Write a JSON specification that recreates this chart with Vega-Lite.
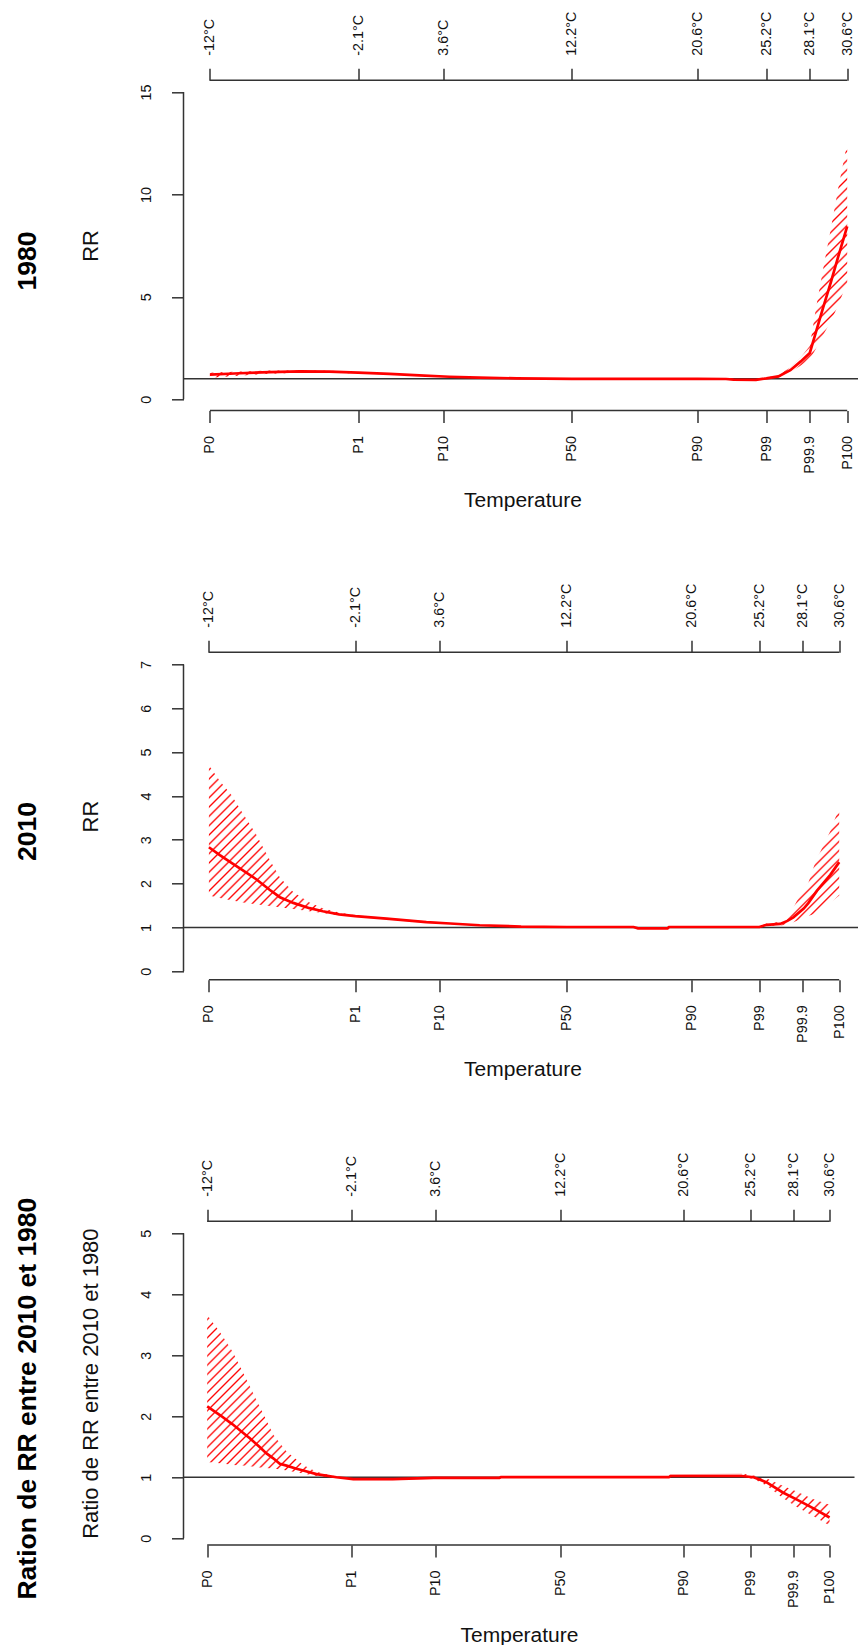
{
  "$schema": "https://vega.github.io/schema/vega-lite/v6.json",
  "background": "white",
  "padding": {"left": 13.5, "top": 10.3, "right": 0, "bottom": 0},
  "bounds": "flush",
  "spacing": 241,
  "vconcat": [
    {
      "width": 678,
      "height": 330.3,
      "title": {"text": "1980"},
      "data": {"values": [
        {"t": -12, "rr": 1.2, "lo": 1.05, "hi": 1.3},
        {"t": -10, "rr": 1.27, "lo": 1.15, "hi": 1.36},
        {"t": -8, "rr": 1.33, "lo": 1.25, "hi": 1.4},
        {"t": -6, "rr": 1.36, "lo": 1.3, "hi": 1.41},
        {"t": -4, "rr": 1.35, "lo": 1.3, "hi": 1.39},
        {"t": -2.1, "rr": 1.3, "lo": 1.26, "hi": 1.34},
        {"t": 0, "rr": 1.24, "lo": 1.21, "hi": 1.27},
        {"t": 2, "rr": 1.17, "lo": 1.15, "hi": 1.19},
        {"t": 4, "rr": 1.1, "lo": 1.08, "hi": 1.12},
        {"t": 6, "rr": 1.06, "lo": 1.05, "hi": 1.07},
        {"t": 8.5, "rr": 1.02, "lo": 1.01, "hi": 1.03},
        {"t": 12.2, "rr": 1.0, "lo": 0.99, "hi": 1.01},
        {"t": 16, "rr": 1.0, "lo": 0.99, "hi": 1.01},
        {"t": 20.6, "rr": 1.0, "lo": 0.99, "hi": 1.01},
        {"t": 22.5, "rr": 0.99, "lo": 0.97, "hi": 1.01},
        {"t": 23, "rr": 0.96, "lo": 0.94, "hi": 0.98},
        {"t": 24.5, "rr": 0.95, "lo": 0.93, "hi": 0.97},
        {"t": 25.2, "rr": 1.02, "lo": 0.99, "hi": 1.05},
        {"t": 26, "rr": 1.12, "lo": 1.06, "hi": 1.18},
        {"t": 26.8, "rr": 1.42, "lo": 1.32, "hi": 1.55},
        {"t": 27.5, "rr": 1.85, "lo": 1.65, "hi": 2.05},
        {"t": 28.1, "rr": 2.26, "lo": 1.95, "hi": 2.6},
        {"t": 28.5, "rr": 3.25, "lo": 2.45, "hi": 4.4},
        {"t": 29, "rr": 4.5, "lo": 3.15, "hi": 6.4},
        {"t": 29.5, "rr": 5.7, "lo": 3.8, "hi": 8.3},
        {"t": 30, "rr": 6.96, "lo": 4.6, "hi": 10.3},
        {"t": 30.6, "rr": 8.44, "lo": 5.7, "hi": 12.5}
      ]},
      "resolve": {"axis": {"x": "independent", "y": "independent"}},
      "layer": [
        {
          "transform": [{"filter": "datum.t <= -2.1"}],
          "mark": {"type": "area", "fill": {"gradient": "linear", "x1": 0, "y1": 0, "x2": 1.0474, "y2": 0.0523, "stops": [
            {"offset":0.0176,"color":"#ff000000"},{"offset":0.0294,"color":"#ff0000"},{"offset":0.0412,"color":"#ff000000"},
            {"offset":0.0765,"color":"#ff000000"},{"offset":0.0882,"color":"#ff0000"},{"offset":0.1,"color":"#ff000000"},
            {"offset":0.1353,"color":"#ff000000"},{"offset":0.1471,"color":"#ff0000"},{"offset":0.1588,"color":"#ff000000"},
            {"offset":0.1941,"color":"#ff000000"},{"offset":0.2059,"color":"#ff0000"},{"offset":0.2176,"color":"#ff000000"},
            {"offset":0.2529,"color":"#ff000000"},{"offset":0.2647,"color":"#ff0000"},{"offset":0.2765,"color":"#ff000000"},
            {"offset":0.3118,"color":"#ff000000"},{"offset":0.3235,"color":"#ff0000"},{"offset":0.3353,"color":"#ff000000"},
            {"offset":0.3706,"color":"#ff000000"},{"offset":0.3824,"color":"#ff0000"},{"offset":0.3941,"color":"#ff000000"},
            {"offset":0.4294,"color":"#ff000000"},{"offset":0.4412,"color":"#ff0000"},{"offset":0.4529,"color":"#ff000000"},
            {"offset":0.4882,"color":"#ff000000"},{"offset":0.5,"color":"#ff0000"},{"offset":0.5118,"color":"#ff000000"},
            {"offset":0.5471,"color":"#ff000000"},{"offset":0.5588,"color":"#ff0000"},{"offset":0.5706,"color":"#ff000000"},
            {"offset":0.6059,"color":"#ff000000"},{"offset":0.6176,"color":"#ff0000"},{"offset":0.6294,"color":"#ff000000"},
            {"offset":0.6647,"color":"#ff000000"},{"offset":0.6765,"color":"#ff0000"},{"offset":0.6882,"color":"#ff000000"},
            {"offset":0.7235,"color":"#ff000000"},{"offset":0.7353,"color":"#ff0000"},{"offset":0.7471,"color":"#ff000000"},
            {"offset":0.7824,"color":"#ff000000"},{"offset":0.7941,"color":"#ff0000"},{"offset":0.8059,"color":"#ff000000"},
            {"offset":0.8412,"color":"#ff000000"},{"offset":0.8529,"color":"#ff0000"},{"offset":0.8647,"color":"#ff000000"},
            {"offset":0.9,"color":"#ff000000"},{"offset":0.9118,"color":"#ff0000"},{"offset":0.9235,"color":"#ff000000"},
            {"offset":0.9588,"color":"#ff000000"},{"offset":0.9706,"color":"#ff0000"},{"offset":0.9824,"color":"#ff000000"}
          ]}},
          "encoding": {
            "x": {"field": "t", "type": "quantitative", "scale": {"domain": [-13.765, 31.556], "nice": false, "zero": false}, "axis": null},
            "y": {"field": "lo", "type": "quantitative", "scale": {"domain": [-0.552, 15.571], "nice": false, "zero": false}, "axis": null},
            "y2": {"field": "hi"}
          }
        },
        {
          "transform": [{"filter": "datum.t >= -2.1 && datum.t <= 25.2"}],
          "mark": {"type": "area", "color": "#ff0000", "fillOpacity": 0.25},
          "encoding": {
            "x": {"field": "t", "type": "quantitative", "scale": {"domain": [-13.765, 31.556], "nice": false, "zero": false},
              "axis": {"orient": "bottom", "values": [-12, -2.1, 3.6, 12.2, 20.6, 25.2, 28.1, 30.6],
                "labelExpr": "datum.value == -12 ? 'P0' : datum.value == -2.1 ? 'P1' : datum.value == 3.6 ? 'P10' : datum.value == 12.2 ? 'P50' : datum.value == 20.6 ? 'P90' : datum.value == 25.2 ? 'P99' : datum.value == 28.1 ? 'P99.9' : 'P100'",
                "labelAngle": 270, "labelAlign": "right", "labelBaseline": "middle", "labelPadding": 13,
                "title": "Temperature", "titleFontSize": 21, "titlePadding": 16.5}},
            "y": {"field": "lo", "type": "quantitative", "scale": {"domain": [-0.552, 15.571], "nice": false, "zero": false},
              "axis": {"orient": "left", "values": [0, 5, 10, 15], "labelAngle": 270, "labelAlign": "center", "labelBaseline": "bottom", "labelPadding": 18,
                "title": "RR", "titleFontSize": 22, "titlePadding": 36}},
            "y2": {"field": "hi"}
          }
        },
        {
          "transform": [{"filter": "datum.t >= 25.2"}],
          "mark": {"type": "area", "fill": {"gradient": "linear", "x1": 0, "y1": 0, "x2": 0.4117, "y2": 1.2015, "stops": [
            {"offset":0.0088,"color":"#ff000000"},{"offset":0.0147,"color":"#ff0000"},{"offset":0.0206,"color":"#ff000000"},
            {"offset":0.0382,"color":"#ff000000"},{"offset":0.0441,"color":"#ff0000"},{"offset":0.05,"color":"#ff000000"},
            {"offset":0.0676,"color":"#ff000000"},{"offset":0.0735,"color":"#ff0000"},{"offset":0.0794,"color":"#ff000000"},
            {"offset":0.0971,"color":"#ff000000"},{"offset":0.1029,"color":"#ff0000"},{"offset":0.1088,"color":"#ff000000"},
            {"offset":0.1265,"color":"#ff000000"},{"offset":0.1324,"color":"#ff0000"},{"offset":0.1382,"color":"#ff000000"},
            {"offset":0.1559,"color":"#ff000000"},{"offset":0.1618,"color":"#ff0000"},{"offset":0.1676,"color":"#ff000000"},
            {"offset":0.1853,"color":"#ff000000"},{"offset":0.1912,"color":"#ff0000"},{"offset":0.1971,"color":"#ff000000"},
            {"offset":0.2147,"color":"#ff000000"},{"offset":0.2206,"color":"#ff0000"},{"offset":0.2265,"color":"#ff000000"},
            {"offset":0.2441,"color":"#ff000000"},{"offset":0.25,"color":"#ff0000"},{"offset":0.2559,"color":"#ff000000"},
            {"offset":0.2735,"color":"#ff000000"},{"offset":0.2794,"color":"#ff0000"},{"offset":0.2853,"color":"#ff000000"},
            {"offset":0.3029,"color":"#ff000000"},{"offset":0.3088,"color":"#ff0000"},{"offset":0.3147,"color":"#ff000000"},
            {"offset":0.3324,"color":"#ff000000"},{"offset":0.3382,"color":"#ff0000"},{"offset":0.3441,"color":"#ff000000"},
            {"offset":0.3618,"color":"#ff000000"},{"offset":0.3676,"color":"#ff0000"},{"offset":0.3735,"color":"#ff000000"},
            {"offset":0.3912,"color":"#ff000000"},{"offset":0.3971,"color":"#ff0000"},{"offset":0.4029,"color":"#ff000000"},
            {"offset":0.4206,"color":"#ff000000"},{"offset":0.4265,"color":"#ff0000"},{"offset":0.4324,"color":"#ff000000"},
            {"offset":0.45,"color":"#ff000000"},{"offset":0.4559,"color":"#ff0000"},{"offset":0.4618,"color":"#ff000000"},
            {"offset":0.4794,"color":"#ff000000"},{"offset":0.4853,"color":"#ff0000"},{"offset":0.4912,"color":"#ff000000"},
            {"offset":0.5088,"color":"#ff000000"},{"offset":0.5147,"color":"#ff0000"},{"offset":0.5206,"color":"#ff000000"},
            {"offset":0.5382,"color":"#ff000000"},{"offset":0.5441,"color":"#ff0000"},{"offset":0.55,"color":"#ff000000"},
            {"offset":0.5676,"color":"#ff000000"},{"offset":0.5735,"color":"#ff0000"},{"offset":0.5794,"color":"#ff000000"},
            {"offset":0.5971,"color":"#ff000000"},{"offset":0.6029,"color":"#ff0000"},{"offset":0.6088,"color":"#ff000000"},
            {"offset":0.6265,"color":"#ff000000"},{"offset":0.6324,"color":"#ff0000"},{"offset":0.6382,"color":"#ff000000"},
            {"offset":0.6559,"color":"#ff000000"},{"offset":0.6618,"color":"#ff0000"},{"offset":0.6676,"color":"#ff000000"},
            {"offset":0.6853,"color":"#ff000000"},{"offset":0.6912,"color":"#ff0000"},{"offset":0.6971,"color":"#ff000000"},
            {"offset":0.7147,"color":"#ff000000"},{"offset":0.7206,"color":"#ff0000"},{"offset":0.7265,"color":"#ff000000"},
            {"offset":0.7441,"color":"#ff000000"},{"offset":0.75,"color":"#ff0000"},{"offset":0.7559,"color":"#ff000000"},
            {"offset":0.7735,"color":"#ff000000"},{"offset":0.7794,"color":"#ff0000"},{"offset":0.7853,"color":"#ff000000"},
            {"offset":0.8029,"color":"#ff000000"},{"offset":0.8088,"color":"#ff0000"},{"offset":0.8147,"color":"#ff000000"},
            {"offset":0.8324,"color":"#ff000000"},{"offset":0.8382,"color":"#ff0000"},{"offset":0.8441,"color":"#ff000000"},
            {"offset":0.8618,"color":"#ff000000"},{"offset":0.8676,"color":"#ff0000"},{"offset":0.8735,"color":"#ff000000"},
            {"offset":0.8912,"color":"#ff000000"},{"offset":0.8971,"color":"#ff0000"},{"offset":0.9029,"color":"#ff000000"},
            {"offset":0.9206,"color":"#ff000000"},{"offset":0.9265,"color":"#ff0000"},{"offset":0.9324,"color":"#ff000000"},
            {"offset":0.95,"color":"#ff000000"},{"offset":0.9559,"color":"#ff0000"},{"offset":0.9618,"color":"#ff000000"},
            {"offset":0.9794,"color":"#ff000000"},{"offset":0.9853,"color":"#ff0000"},{"offset":0.9912,"color":"#ff000000"}
          ]}},
          "encoding": {
            "x": {"field": "t", "type": "quantitative", "scale": {"domain": [-13.765, 31.556], "nice": false, "zero": false}, "axis": null},
            "y": {"field": "lo", "type": "quantitative", "scale": {"domain": [-0.552, 15.571], "nice": false, "zero": false}, "axis": null},
            "y2": {"field": "hi"}
          }
        },
        {
          "data": {"values": [{}]},
          "mark": {"type": "rule", "color": "#333333", "strokeWidth": 1.5},
          "encoding": {"y": {"datum": 1, "type": "quantitative", "scale": {"domain": [-0.552, 15.571], "nice": false, "zero": false}, "axis": null}}
        },
        {
          "mark": {"type": "line", "color": "#ff0000", "strokeWidth": 2.7},
          "encoding": {
            "x": {"field": "t", "type": "quantitative", "scale": {"domain": [-13.765, 31.556], "nice": false, "zero": false},
              "axis": {"orient": "top", "values": [-12, -2.1, 3.6, 12.2, 20.6, 25.2, 28.1, 30.6],
                "labelExpr": "datum.value + '°C'", "labelAngle": 270, "labelAlign": "left", "labelBaseline": "middle", "labelPadding": 13, "title": null}},
            "y": {"field": "rr", "type": "quantitative", "scale": {"domain": [-0.552, 15.571], "nice": false, "zero": false}, "axis": null}
          }
        },
        {
          "data": {"values": [{}]},
          "mark": {"type": "rule", "color": "#333333", "strokeWidth": 1.5},
          "encoding": {
            "x": {"datum": -12, "type": "quantitative", "scale": {"domain": [-13.765, 31.556], "nice": false, "zero": false}, "axis": null},
            "x2": {"datum": 30.6},
            "y": {"datum": 15.571, "type": "quantitative", "scale": {"domain": [-0.552, 15.571], "nice": false, "zero": false}, "axis": null}
          }
        },
        {
          "data": {"values": [{}]},
          "mark": {"type": "rule", "color": "#333333", "strokeWidth": 1.5},
          "encoding": {
            "x": {"datum": -12, "type": "quantitative", "scale": {"domain": [-13.765, 31.556], "nice": false, "zero": false}, "axis": null},
            "x2": {"datum": 30.6},
            "y": {"datum": -0.552, "type": "quantitative", "scale": {"domain": [-0.552, 15.571], "nice": false, "zero": false}, "axis": null}
          }
        },
        {
          "data": {"values": [{}]},
          "mark": {"type": "rule", "color": "#333333", "strokeWidth": 1.5},
          "encoding": {
            "x": {"datum": -13.765, "type": "quantitative", "scale": {"domain": [-13.765, 31.556], "nice": false, "zero": false}, "axis": null},
            "y": {"datum": 0, "type": "quantitative", "scale": {"domain": [-0.552, 15.571], "nice": false, "zero": false}, "axis": null},
            "y2": {"datum": 15}
          }
        }
      ]
    },
    {
      "width": 678,
      "height": 327.5,
      "title": {"text": "2010"},
      "data": {"values": [
        {"t": -12, "rr": 2.83, "lo": 1.73, "hi": 4.7},
        {"t": -11.26, "rr": 2.65, "lo": 1.67, "hi": 4.34},
        {"t": -10.5, "rr": 2.48, "lo": 1.62, "hi": 4.03},
        {"t": -9.7, "rr": 2.3, "lo": 1.57, "hi": 3.6},
        {"t": -8.8, "rr": 2.1, "lo": 1.53, "hi": 3.12},
        {"t": -7.9, "rr": 1.86, "lo": 1.49, "hi": 2.55},
        {"t": -7.2, "rr": 1.69, "lo": 1.46, "hi": 2.14},
        {"t": -6.3, "rr": 1.56, "lo": 1.42, "hi": 1.81},
        {"t": -5.2, "rr": 1.44, "lo": 1.37, "hi": 1.57},
        {"t": -4.3, "rr": 1.37, "lo": 1.33, "hi": 1.44},
        {"t": -3.2, "rr": 1.3, "lo": 1.27, "hi": 1.34},
        {"t": -2.1, "rr": 1.26, "lo": 1.24, "hi": 1.28},
        {"t": 0, "rr": 1.2, "lo": 1.18, "hi": 1.22},
        {"t": 2.7, "rr": 1.12, "lo": 1.1, "hi": 1.14},
        {"t": 4.3, "rr": 1.09, "lo": 1.08, "hi": 1.11},
        {"t": 6.3, "rr": 1.05, "lo": 1.04, "hi": 1.06},
        {"t": 9.1, "rr": 1.02, "lo": 1.01, "hi": 1.03},
        {"t": 12.2, "rr": 1.01, "lo": 1.0, "hi": 1.02},
        {"t": 16.7, "rr": 1.01, "lo": 1.0, "hi": 1.02},
        {"t": 17, "rr": 0.98, "lo": 0.97, "hi": 0.99},
        {"t": 19, "rr": 0.98, "lo": 0.97, "hi": 0.99},
        {"t": 19.1, "rr": 1.01, "lo": 1.0, "hi": 1.02},
        {"t": 25.2, "rr": 1.01, "lo": 1.0, "hi": 1.03},
        {"t": 25.7, "rr": 1.06, "lo": 1.04, "hi": 1.09},
        {"t": 26.6, "rr": 1.08, "lo": 1.04, "hi": 1.13},
        {"t": 27.1, "rr": 1.15, "lo": 1.08, "hi": 1.24},
        {"t": 27.5, "rr": 1.23, "lo": 1.12, "hi": 1.45},
        {"t": 28.2, "rr": 1.43, "lo": 1.22, "hi": 1.9},
        {"t": 28.5, "rr": 1.55, "lo": 1.26, "hi": 2.0},
        {"t": 29.1, "rr": 1.84, "lo": 1.33, "hi": 2.6},
        {"t": 29.3, "rr": 1.92, "lo": 1.38, "hi": 2.71},
        {"t": 30.0, "rr": 2.2, "lo": 1.57, "hi": 3.2},
        {"t": 30.6, "rr": 2.49, "lo": 1.73, "hi": 3.73}
      ]},
      "resolve": {"axis": {"x": "independent", "y": "independent"}},
      "layer": [
        {
          "transform": [{"filter": "datum.t <= -2.1"}],
          "mark": {"type": "area", "fill": {"gradient": "linear", "x1": 0, "y1": 0, "x2": 0.9822, "y2": 1.0171, "stops": [
            {"offset":0.0094,"color":"#ff000000"},{"offset":0.0156,"color":"#ff0000"},{"offset":0.0219,"color":"#ff000000"},
            {"offset":0.0406,"color":"#ff000000"},{"offset":0.0469,"color":"#ff0000"},{"offset":0.0531,"color":"#ff000000"},
            {"offset":0.0719,"color":"#ff000000"},{"offset":0.0781,"color":"#ff0000"},{"offset":0.0844,"color":"#ff000000"},
            {"offset":0.1031,"color":"#ff000000"},{"offset":0.1094,"color":"#ff0000"},{"offset":0.1156,"color":"#ff000000"},
            {"offset":0.1344,"color":"#ff000000"},{"offset":0.1406,"color":"#ff0000"},{"offset":0.1469,"color":"#ff000000"},
            {"offset":0.1656,"color":"#ff000000"},{"offset":0.1719,"color":"#ff0000"},{"offset":0.1781,"color":"#ff000000"},
            {"offset":0.1969,"color":"#ff000000"},{"offset":0.2031,"color":"#ff0000"},{"offset":0.2094,"color":"#ff000000"},
            {"offset":0.2281,"color":"#ff000000"},{"offset":0.2344,"color":"#ff0000"},{"offset":0.2406,"color":"#ff000000"},
            {"offset":0.2594,"color":"#ff000000"},{"offset":0.2656,"color":"#ff0000"},{"offset":0.2719,"color":"#ff000000"},
            {"offset":0.2906,"color":"#ff000000"},{"offset":0.2969,"color":"#ff0000"},{"offset":0.3031,"color":"#ff000000"},
            {"offset":0.3219,"color":"#ff000000"},{"offset":0.3281,"color":"#ff0000"},{"offset":0.3344,"color":"#ff000000"},
            {"offset":0.3531,"color":"#ff000000"},{"offset":0.3594,"color":"#ff0000"},{"offset":0.3656,"color":"#ff000000"},
            {"offset":0.3844,"color":"#ff000000"},{"offset":0.3906,"color":"#ff0000"},{"offset":0.3969,"color":"#ff000000"},
            {"offset":0.4156,"color":"#ff000000"},{"offset":0.4219,"color":"#ff0000"},{"offset":0.4281,"color":"#ff000000"},
            {"offset":0.4469,"color":"#ff000000"},{"offset":0.4531,"color":"#ff0000"},{"offset":0.4594,"color":"#ff000000"},
            {"offset":0.4781,"color":"#ff000000"},{"offset":0.4844,"color":"#ff0000"},{"offset":0.4906,"color":"#ff000000"},
            {"offset":0.5094,"color":"#ff000000"},{"offset":0.5156,"color":"#ff0000"},{"offset":0.5219,"color":"#ff000000"},
            {"offset":0.5406,"color":"#ff000000"},{"offset":0.5469,"color":"#ff0000"},{"offset":0.5531,"color":"#ff000000"},
            {"offset":0.5719,"color":"#ff000000"},{"offset":0.5781,"color":"#ff0000"},{"offset":0.5844,"color":"#ff000000"},
            {"offset":0.6031,"color":"#ff000000"},{"offset":0.6094,"color":"#ff0000"},{"offset":0.6156,"color":"#ff000000"},
            {"offset":0.6344,"color":"#ff000000"},{"offset":0.6406,"color":"#ff0000"},{"offset":0.6469,"color":"#ff000000"},
            {"offset":0.6656,"color":"#ff000000"},{"offset":0.6719,"color":"#ff0000"},{"offset":0.6781,"color":"#ff000000"},
            {"offset":0.6969,"color":"#ff000000"},{"offset":0.7031,"color":"#ff0000"},{"offset":0.7094,"color":"#ff000000"},
            {"offset":0.7281,"color":"#ff000000"},{"offset":0.7344,"color":"#ff0000"},{"offset":0.7406,"color":"#ff000000"},
            {"offset":0.7594,"color":"#ff000000"},{"offset":0.7656,"color":"#ff0000"},{"offset":0.7719,"color":"#ff000000"},
            {"offset":0.7906,"color":"#ff000000"},{"offset":0.7969,"color":"#ff0000"},{"offset":0.8031,"color":"#ff000000"},
            {"offset":0.8219,"color":"#ff000000"},{"offset":0.8281,"color":"#ff0000"},{"offset":0.8344,"color":"#ff000000"},
            {"offset":0.8531,"color":"#ff000000"},{"offset":0.8594,"color":"#ff0000"},{"offset":0.8656,"color":"#ff000000"},
            {"offset":0.8844,"color":"#ff000000"},{"offset":0.8906,"color":"#ff0000"},{"offset":0.8969,"color":"#ff000000"},
            {"offset":0.9156,"color":"#ff000000"},{"offset":0.9219,"color":"#ff0000"},{"offset":0.9281,"color":"#ff000000"},
            {"offset":0.9469,"color":"#ff000000"},{"offset":0.9531,"color":"#ff0000"},{"offset":0.9594,"color":"#ff000000"},
            {"offset":0.9781,"color":"#ff000000"},{"offset":0.9844,"color":"#ff0000"},{"offset":0.9906,"color":"#ff000000"}
          ]}},
          "encoding": {
            "x": {"field": "t", "type": "quantitative", "scale": {"domain": [-13.717, 32.107], "nice": false, "zero": false}, "axis": null},
            "y": {"field": "lo", "type": "quantitative", "scale": {"domain": [-0.194, 7.276], "nice": false, "zero": false}, "axis": null},
            "y2": {"field": "hi"}
          }
        },
        {
          "transform": [{"filter": "datum.t >= -2.1 && datum.t <= 25.2"}],
          "mark": {"type": "area", "color": "#ff0000", "fillOpacity": 0.25},
          "encoding": {
            "x": {"field": "t", "type": "quantitative", "scale": {"domain": [-13.717, 32.107], "nice": false, "zero": false},
              "axis": {"orient": "bottom", "values": [-12, -2.1, 3.6, 12.2, 20.6, 25.2, 28.1, 30.6],
                "labelExpr": "datum.value == -12 ? 'P0' : datum.value == -2.1 ? 'P1' : datum.value == 3.6 ? 'P10' : datum.value == 12.2 ? 'P50' : datum.value == 20.6 ? 'P90' : datum.value == 25.2 ? 'P99' : datum.value == 28.1 ? 'P99.9' : 'P100'",
                "labelAngle": 270, "labelAlign": "right", "labelBaseline": "middle", "labelPadding": 13,
                "title": "Temperature", "titleFontSize": 21, "titlePadding": 16.5}},
            "y": {"field": "lo", "type": "quantitative", "scale": {"domain": [-0.194, 7.276], "nice": false, "zero": false},
              "axis": {"orient": "left", "values": [0, 1, 2, 3, 4, 5, 6, 7], "labelAngle": 270, "labelAlign": "center", "labelBaseline": "bottom", "labelPadding": 18,
                "title": "RR", "titleFontSize": 22, "titlePadding": 36}},
            "y2": {"field": "hi"}
          }
        },
        {
          "transform": [{"filter": "datum.t >= 25.2"}],
          "mark": {"type": "area", "fill": {"gradient": "linear", "x1": 0, "y1": 0, "x2": 0.77, "y2": 1.1535, "stops": [
            {"offset":0.0136,"color":"#ff000000"},{"offset":0.0227,"color":"#ff0000"},{"offset":0.0318,"color":"#ff000000"},
            {"offset":0.0591,"color":"#ff000000"},{"offset":0.0682,"color":"#ff0000"},{"offset":0.0773,"color":"#ff000000"},
            {"offset":0.1045,"color":"#ff000000"},{"offset":0.1136,"color":"#ff0000"},{"offset":0.1227,"color":"#ff000000"},
            {"offset":0.15,"color":"#ff000000"},{"offset":0.1591,"color":"#ff0000"},{"offset":0.1682,"color":"#ff000000"},
            {"offset":0.1955,"color":"#ff000000"},{"offset":0.2045,"color":"#ff0000"},{"offset":0.2136,"color":"#ff000000"},
            {"offset":0.2409,"color":"#ff000000"},{"offset":0.25,"color":"#ff0000"},{"offset":0.2591,"color":"#ff000000"},
            {"offset":0.2864,"color":"#ff000000"},{"offset":0.2955,"color":"#ff0000"},{"offset":0.3045,"color":"#ff000000"},
            {"offset":0.3318,"color":"#ff000000"},{"offset":0.3409,"color":"#ff0000"},{"offset":0.35,"color":"#ff000000"},
            {"offset":0.3773,"color":"#ff000000"},{"offset":0.3864,"color":"#ff0000"},{"offset":0.3955,"color":"#ff000000"},
            {"offset":0.4227,"color":"#ff000000"},{"offset":0.4318,"color":"#ff0000"},{"offset":0.4409,"color":"#ff000000"},
            {"offset":0.4682,"color":"#ff000000"},{"offset":0.4773,"color":"#ff0000"},{"offset":0.4864,"color":"#ff000000"},
            {"offset":0.5136,"color":"#ff000000"},{"offset":0.5227,"color":"#ff0000"},{"offset":0.5318,"color":"#ff000000"},
            {"offset":0.5591,"color":"#ff000000"},{"offset":0.5682,"color":"#ff0000"},{"offset":0.5773,"color":"#ff000000"},
            {"offset":0.6045,"color":"#ff000000"},{"offset":0.6136,"color":"#ff0000"},{"offset":0.6227,"color":"#ff000000"},
            {"offset":0.65,"color":"#ff000000"},{"offset":0.6591,"color":"#ff0000"},{"offset":0.6682,"color":"#ff000000"},
            {"offset":0.6955,"color":"#ff000000"},{"offset":0.7045,"color":"#ff0000"},{"offset":0.7136,"color":"#ff000000"},
            {"offset":0.7409,"color":"#ff000000"},{"offset":0.75,"color":"#ff0000"},{"offset":0.7591,"color":"#ff000000"},
            {"offset":0.7864,"color":"#ff000000"},{"offset":0.7955,"color":"#ff0000"},{"offset":0.8045,"color":"#ff000000"},
            {"offset":0.8318,"color":"#ff000000"},{"offset":0.8409,"color":"#ff0000"},{"offset":0.85,"color":"#ff000000"},
            {"offset":0.8773,"color":"#ff000000"},{"offset":0.8864,"color":"#ff0000"},{"offset":0.8955,"color":"#ff000000"},
            {"offset":0.9227,"color":"#ff000000"},{"offset":0.9318,"color":"#ff0000"},{"offset":0.9409,"color":"#ff000000"},
            {"offset":0.9682,"color":"#ff000000"},{"offset":0.9773,"color":"#ff0000"},{"offset":0.9864,"color":"#ff000000"}
          ]}},
          "encoding": {
            "x": {"field": "t", "type": "quantitative", "scale": {"domain": [-13.717, 32.107], "nice": false, "zero": false}, "axis": null},
            "y": {"field": "lo", "type": "quantitative", "scale": {"domain": [-0.194, 7.276], "nice": false, "zero": false}, "axis": null},
            "y2": {"field": "hi"}
          }
        },
        {
          "data": {"values": [{}]},
          "mark": {"type": "rule", "color": "#333333", "strokeWidth": 1.5},
          "encoding": {"y": {"datum": 1, "type": "quantitative", "scale": {"domain": [-0.194, 7.276], "nice": false, "zero": false}, "axis": null}}
        },
        {
          "mark": {"type": "line", "color": "#ff0000", "strokeWidth": 2.7},
          "encoding": {
            "x": {"field": "t", "type": "quantitative", "scale": {"domain": [-13.717, 32.107], "nice": false, "zero": false},
              "axis": {"orient": "top", "values": [-12, -2.1, 3.6, 12.2, 20.6, 25.2, 28.1, 30.6],
                "labelExpr": "datum.value + '°C'", "labelAngle": 270, "labelAlign": "left", "labelBaseline": "middle", "labelPadding": 13, "title": null}},
            "y": {"field": "rr", "type": "quantitative", "scale": {"domain": [-0.194, 7.276], "nice": false, "zero": false}, "axis": null}
          }
        },
        {
          "data": {"values": [{}]},
          "mark": {"type": "rule", "color": "#333333", "strokeWidth": 1.5},
          "encoding": {
            "x": {"datum": -12, "type": "quantitative", "scale": {"domain": [-13.717, 32.107], "nice": false, "zero": false}, "axis": null},
            "x2": {"datum": 30.6},
            "y": {"datum": 7.276, "type": "quantitative", "scale": {"domain": [-0.194, 7.276], "nice": false, "zero": false}, "axis": null}
          }
        },
        {
          "data": {"values": [{}]},
          "mark": {"type": "rule", "color": "#333333", "strokeWidth": 1.5},
          "encoding": {
            "x": {"datum": -12, "type": "quantitative", "scale": {"domain": [-13.717, 32.107], "nice": false, "zero": false}, "axis": null},
            "x2": {"datum": 30.6},
            "y": {"datum": -0.194, "type": "quantitative", "scale": {"domain": [-0.194, 7.276], "nice": false, "zero": false}, "axis": null}
          }
        },
        {
          "data": {"values": [{}]},
          "mark": {"type": "rule", "color": "#333333", "strokeWidth": 1.5},
          "encoding": {
            "x": {"datum": -13.717, "type": "quantitative", "scale": {"domain": [-13.717, 32.107], "nice": false, "zero": false}, "axis": null},
            "y": {"datum": 0, "type": "quantitative", "scale": {"domain": [-0.194, 7.276], "nice": false, "zero": false}, "axis": null},
            "y2": {"datum": 7}
          }
        }
      ]
    },
    {
      "width": 671,
      "height": 323.7,
      "title": {"text": "Ration de RR entre 2010 et 1980"},
      "data": {"values": [
        {"t": -12, "rr": 2.16, "lo": 1.25, "hi": 3.66},
        {"t": -11.13, "rr": 2.02, "lo": 1.23, "hi": 3.38},
        {"t": -10.45, "rr": 1.9, "lo": 1.21, "hi": 3.13},
        {"t": -10.22, "rr": 1.86, "lo": 1.2, "hi": 3.04},
        {"t": -9.3, "rr": 1.68, "lo": 1.19, "hi": 2.6},
        {"t": -9.08, "rr": 1.64, "lo": 1.18, "hi": 2.49},
        {"t": -8.39, "rr": 1.49, "lo": 1.16, "hi": 2.15},
        {"t": -7.94, "rr": 1.39, "lo": 1.15, "hi": 1.93},
        {"t": -7.48, "rr": 1.31, "lo": 1.14, "hi": 1.7},
        {"t": -7.03, "rr": 1.22, "lo": 1.13, "hi": 1.56},
        {"t": -6.57, "rr": 1.19, "lo": 1.11, "hi": 1.42},
        {"t": -5.89, "rr": 1.14, "lo": 1.08, "hi": 1.29},
        {"t": -5.43, "rr": 1.11, "lo": 1.06, "hi": 1.2},
        {"t": -4.52, "rr": 1.05, "lo": 1.02, "hi": 1.09},
        {"t": -3.15, "rr": 1.0, "lo": 0.99, "hi": 1.01},
        {"t": -2.0, "rr": 0.97, "lo": 0.95, "hi": 0.99},
        {"t": 0.7, "rr": 0.97, "lo": 0.95, "hi": 0.99},
        {"t": 3.5, "rr": 0.99, "lo": 0.97, "hi": 1.01},
        {"t": 8.0, "rr": 0.99, "lo": 0.98, "hi": 1.0},
        {"t": 8.1, "rr": 1.0, "lo": 0.99, "hi": 1.01},
        {"t": 19.6, "rr": 1.0, "lo": 0.99, "hi": 1.01},
        {"t": 19.7, "rr": 1.02, "lo": 0.99, "hi": 1.05},
        {"t": 24.6, "rr": 1.02, "lo": 1.0, "hi": 1.06},
        {"t": 25.4, "rr": 1.0, "lo": 0.97, "hi": 1.03},
        {"t": 26.3, "rr": 0.915, "lo": 0.86, "hi": 0.98},
        {"t": 27.4, "rr": 0.75, "lo": 0.66, "hi": 0.86},
        {"t": 28.3, "rr": 0.64, "lo": 0.52, "hi": 0.77},
        {"t": 29.5, "rr": 0.49, "lo": 0.36, "hi": 0.64},
        {"t": 30.6, "rr": 0.34, "lo": 0.21, "hi": 0.55}
      ]},
      "resolve": {"axis": {"x": "independent", "y": "independent"}},
      "layer": [
        {
          "transform": [{"filter": "datum.t <= -3.15"}],
          "mark": {"type": "area", "fill": {"gradient": "linear", "x1": 0, "y1": 0, "x2": 0.8739, "y2": 1.1002, "stops": [
            {"offset":0.0094,"color":"#ff000000"},{"offset":0.0156,"color":"#ff0000"},{"offset":0.0219,"color":"#ff000000"},
            {"offset":0.0406,"color":"#ff000000"},{"offset":0.0469,"color":"#ff0000"},{"offset":0.0531,"color":"#ff000000"},
            {"offset":0.0719,"color":"#ff000000"},{"offset":0.0781,"color":"#ff0000"},{"offset":0.0844,"color":"#ff000000"},
            {"offset":0.1031,"color":"#ff000000"},{"offset":0.1094,"color":"#ff0000"},{"offset":0.1156,"color":"#ff000000"},
            {"offset":0.1344,"color":"#ff000000"},{"offset":0.1406,"color":"#ff0000"},{"offset":0.1469,"color":"#ff000000"},
            {"offset":0.1656,"color":"#ff000000"},{"offset":0.1719,"color":"#ff0000"},{"offset":0.1781,"color":"#ff000000"},
            {"offset":0.1969,"color":"#ff000000"},{"offset":0.2031,"color":"#ff0000"},{"offset":0.2094,"color":"#ff000000"},
            {"offset":0.2281,"color":"#ff000000"},{"offset":0.2344,"color":"#ff0000"},{"offset":0.2406,"color":"#ff000000"},
            {"offset":0.2594,"color":"#ff000000"},{"offset":0.2656,"color":"#ff0000"},{"offset":0.2719,"color":"#ff000000"},
            {"offset":0.2906,"color":"#ff000000"},{"offset":0.2969,"color":"#ff0000"},{"offset":0.3031,"color":"#ff000000"},
            {"offset":0.3219,"color":"#ff000000"},{"offset":0.3281,"color":"#ff0000"},{"offset":0.3344,"color":"#ff000000"},
            {"offset":0.3531,"color":"#ff000000"},{"offset":0.3594,"color":"#ff0000"},{"offset":0.3656,"color":"#ff000000"},
            {"offset":0.3844,"color":"#ff000000"},{"offset":0.3906,"color":"#ff0000"},{"offset":0.3969,"color":"#ff000000"},
            {"offset":0.4156,"color":"#ff000000"},{"offset":0.4219,"color":"#ff0000"},{"offset":0.4281,"color":"#ff000000"},
            {"offset":0.4469,"color":"#ff000000"},{"offset":0.4531,"color":"#ff0000"},{"offset":0.4594,"color":"#ff000000"},
            {"offset":0.4781,"color":"#ff000000"},{"offset":0.4844,"color":"#ff0000"},{"offset":0.4906,"color":"#ff000000"},
            {"offset":0.5094,"color":"#ff000000"},{"offset":0.5156,"color":"#ff0000"},{"offset":0.5219,"color":"#ff000000"},
            {"offset":0.5406,"color":"#ff000000"},{"offset":0.5469,"color":"#ff0000"},{"offset":0.5531,"color":"#ff000000"},
            {"offset":0.5719,"color":"#ff000000"},{"offset":0.5781,"color":"#ff0000"},{"offset":0.5844,"color":"#ff000000"},
            {"offset":0.6031,"color":"#ff000000"},{"offset":0.6094,"color":"#ff0000"},{"offset":0.6156,"color":"#ff000000"},
            {"offset":0.6344,"color":"#ff000000"},{"offset":0.6406,"color":"#ff0000"},{"offset":0.6469,"color":"#ff000000"},
            {"offset":0.6656,"color":"#ff000000"},{"offset":0.6719,"color":"#ff0000"},{"offset":0.6781,"color":"#ff000000"},
            {"offset":0.6969,"color":"#ff000000"},{"offset":0.7031,"color":"#ff0000"},{"offset":0.7094,"color":"#ff000000"},
            {"offset":0.7281,"color":"#ff000000"},{"offset":0.7344,"color":"#ff0000"},{"offset":0.7406,"color":"#ff000000"},
            {"offset":0.7594,"color":"#ff000000"},{"offset":0.7656,"color":"#ff0000"},{"offset":0.7719,"color":"#ff000000"},
            {"offset":0.7906,"color":"#ff000000"},{"offset":0.7969,"color":"#ff0000"},{"offset":0.8031,"color":"#ff000000"},
            {"offset":0.8219,"color":"#ff000000"},{"offset":0.8281,"color":"#ff0000"},{"offset":0.8344,"color":"#ff000000"},
            {"offset":0.8531,"color":"#ff000000"},{"offset":0.8594,"color":"#ff0000"},{"offset":0.8656,"color":"#ff000000"},
            {"offset":0.8844,"color":"#ff000000"},{"offset":0.8906,"color":"#ff0000"},{"offset":0.8969,"color":"#ff000000"},
            {"offset":0.9156,"color":"#ff000000"},{"offset":0.9219,"color":"#ff0000"},{"offset":0.9281,"color":"#ff000000"},
            {"offset":0.9469,"color":"#ff000000"},{"offset":0.9531,"color":"#ff0000"},{"offset":0.9594,"color":"#ff000000"},
            {"offset":0.9781,"color":"#ff000000"},{"offset":0.9844,"color":"#ff0000"},{"offset":0.9906,"color":"#ff000000"}
          ]}},
          "encoding": {
            "x": {"field": "t", "type": "quantitative", "scale": {"domain": [-13.622, 32.305], "nice": false, "zero": false}, "axis": null},
            "y": {"field": "lo", "type": "quantitative", "scale": {"domain": [-0.1115, 5.197], "nice": false, "zero": false}, "axis": null},
            "y2": {"field": "hi"}
          }
        },
        {
          "transform": [{"filter": "datum.t >= -3.15 && datum.t <= 24.6"}],
          "mark": {"type": "area", "color": "#ff0000", "fillOpacity": 0.25},
          "encoding": {
            "x": {"field": "t", "type": "quantitative", "scale": {"domain": [-13.622, 32.305], "nice": false, "zero": false},
              "axis": {"orient": "bottom", "values": [-12, -2.1, 3.6, 12.2, 20.6, 25.2, 28.1, 30.6],
                "labelExpr": "datum.value == -12 ? 'P0' : datum.value == -2.1 ? 'P1' : datum.value == 3.6 ? 'P10' : datum.value == 12.2 ? 'P50' : datum.value == 20.6 ? 'P90' : datum.value == 25.2 ? 'P99' : datum.value == 28.1 ? 'P99.9' : 'P100'",
                "labelAngle": 270, "labelAlign": "right", "labelBaseline": "middle", "labelPadding": 13,
                "title": "Temperature", "titleFontSize": 21, "titlePadding": 16.5}},
            "y": {"field": "lo", "type": "quantitative", "scale": {"domain": [-0.1115, 5.197], "nice": false, "zero": false},
              "axis": {"orient": "left", "values": [0, 1, 2, 3, 4, 5], "labelAngle": 270, "labelAlign": "center", "labelBaseline": "bottom", "labelPadding": 18,
                "title": "Ratio de RR entre 2010 et 1980", "titleFontSize": 22, "titlePadding": 36}},
            "y2": {"field": "hi"}
          }
        },
        {
          "transform": [{"filter": "datum.t >= 24.6"}],
          "mark": {"type": "area", "fill": {"gradient": "linear", "x1": 0, "y1": 0, "x2": 1.1793, "y2": 0.6965, "stops": [
            {"offset":0.02,"color":"#ff000000"},{"offset":0.0333,"color":"#ff0000"},{"offset":0.0467,"color":"#ff000000"},
            {"offset":0.0867,"color":"#ff000000"},{"offset":0.1,"color":"#ff0000"},{"offset":0.1133,"color":"#ff000000"},
            {"offset":0.1533,"color":"#ff000000"},{"offset":0.1667,"color":"#ff0000"},{"offset":0.18,"color":"#ff000000"},
            {"offset":0.22,"color":"#ff000000"},{"offset":0.2333,"color":"#ff0000"},{"offset":0.2467,"color":"#ff000000"},
            {"offset":0.2867,"color":"#ff000000"},{"offset":0.3,"color":"#ff0000"},{"offset":0.3133,"color":"#ff000000"},
            {"offset":0.3533,"color":"#ff000000"},{"offset":0.3667,"color":"#ff0000"},{"offset":0.38,"color":"#ff000000"},
            {"offset":0.42,"color":"#ff000000"},{"offset":0.4333,"color":"#ff0000"},{"offset":0.4467,"color":"#ff000000"},
            {"offset":0.4867,"color":"#ff000000"},{"offset":0.5,"color":"#ff0000"},{"offset":0.5133,"color":"#ff000000"},
            {"offset":0.5533,"color":"#ff000000"},{"offset":0.5667,"color":"#ff0000"},{"offset":0.58,"color":"#ff000000"},
            {"offset":0.62,"color":"#ff000000"},{"offset":0.6333,"color":"#ff0000"},{"offset":0.6467,"color":"#ff000000"},
            {"offset":0.6867,"color":"#ff000000"},{"offset":0.7,"color":"#ff0000"},{"offset":0.7133,"color":"#ff000000"},
            {"offset":0.7533,"color":"#ff000000"},{"offset":0.7667,"color":"#ff0000"},{"offset":0.78,"color":"#ff000000"},
            {"offset":0.82,"color":"#ff000000"},{"offset":0.8333,"color":"#ff0000"},{"offset":0.8467,"color":"#ff000000"},
            {"offset":0.8867,"color":"#ff000000"},{"offset":0.9,"color":"#ff0000"},{"offset":0.9133,"color":"#ff000000"},
            {"offset":0.9533,"color":"#ff000000"},{"offset":0.9667,"color":"#ff0000"},{"offset":0.98,"color":"#ff000000"}
          ]}},
          "encoding": {
            "x": {"field": "t", "type": "quantitative", "scale": {"domain": [-13.622, 32.305], "nice": false, "zero": false}, "axis": null},
            "y": {"field": "lo", "type": "quantitative", "scale": {"domain": [-0.1115, 5.197], "nice": false, "zero": false}, "axis": null},
            "y2": {"field": "hi"}
          }
        },
        {
          "data": {"values": [{}]},
          "mark": {"type": "rule", "color": "#333333", "strokeWidth": 1.5},
          "encoding": {"y": {"datum": 1, "type": "quantitative", "scale": {"domain": [-0.1115, 5.197], "nice": false, "zero": false}, "axis": null}}
        },
        {
          "mark": {"type": "line", "color": "#ff0000", "strokeWidth": 2.7},
          "encoding": {
            "x": {"field": "t", "type": "quantitative", "scale": {"domain": [-13.622, 32.305], "nice": false, "zero": false},
              "axis": {"orient": "top", "values": [-12, -2.1, 3.6, 12.2, 20.6, 25.2, 28.1, 30.6],
                "labelExpr": "datum.value + '°C'", "labelAngle": 270, "labelAlign": "left", "labelBaseline": "middle", "labelPadding": 13, "title": null}},
            "y": {"field": "rr", "type": "quantitative", "scale": {"domain": [-0.1115, 5.197], "nice": false, "zero": false}, "axis": null}
          }
        },
        {
          "data": {"values": [{}]},
          "mark": {"type": "rule", "color": "#333333", "strokeWidth": 1.5},
          "encoding": {
            "x": {"datum": -12, "type": "quantitative", "scale": {"domain": [-13.622, 32.305], "nice": false, "zero": false}, "axis": null},
            "x2": {"datum": 30.6},
            "y": {"datum": 5.197, "type": "quantitative", "scale": {"domain": [-0.1115, 5.197], "nice": false, "zero": false}, "axis": null}
          }
        },
        {
          "data": {"values": [{}]},
          "mark": {"type": "rule", "color": "#333333", "strokeWidth": 1.5},
          "encoding": {
            "x": {"datum": -12, "type": "quantitative", "scale": {"domain": [-13.622, 32.305], "nice": false, "zero": false}, "axis": null},
            "x2": {"datum": 30.6},
            "y": {"datum": -0.1115, "type": "quantitative", "scale": {"domain": [-0.1115, 5.197], "nice": false, "zero": false}, "axis": null}
          }
        },
        {
          "data": {"values": [{}]},
          "mark": {"type": "rule", "color": "#333333", "strokeWidth": 1.5},
          "encoding": {
            "x": {"datum": -13.622, "type": "quantitative", "scale": {"domain": [-13.622, 32.305], "nice": false, "zero": false}, "axis": null},
            "y": {"datum": 0, "type": "quantitative", "scale": {"domain": [-0.1115, 5.197], "nice": false, "zero": false}, "axis": null},
            "y2": {"datum": 5}
          }
        }
      ]
    }
  ],
  "config": {
    "view": {"stroke": null},
    "font": "Liberation Sans",
    "axis": {
      "labelFont": "Liberation Sans", "titleFont": "Liberation Sans", "labelFontSize": 14.4, "labelColor": "#111111",
      "tickColor": "#333333", "tickWidth": 1.5, "tickSize": 12, "titleColor": "#111111", "titleFontWeight": "normal",
      "grid": false, "domain": false, "labelOverlap": false, "labelFlush": false
    },
    "title": {"font": "Liberation Sans", "fontWeight": "bold", "fontSize": 26.5, "color": "#000000", "orient": "left", "anchor": "middle", "frame": "bounds", "offset": 38.5}
  }
}
